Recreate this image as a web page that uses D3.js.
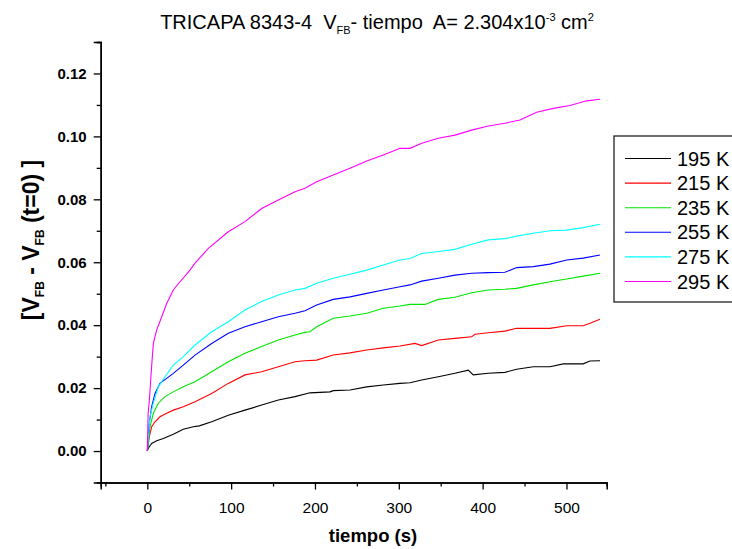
<!DOCTYPE html>
<html>
<head>
<meta charset="utf-8">
<script src="https://cdn.jsdelivr.net/npm/d3@7"></script>
<style>
  body { margin: 0; background: #fff; }
  svg { font-family: Arial, "Liberation Sans", sans-serif; }
  text { white-space: pre; }
</style>
</head>
<body>
<svg id="chart" width="732" height="549"></svg>
<script>
// tiempo (s) y [VFB - VFB(t=0)] (V)
const t195 = [0, 1.2, 5.2, 11.2, 19.1, 31, 42.9, 54.9, 62, 76.8, 96.6, 116.5, 136.4, 156.3, 176.2, 194, 217.9, 221.8, 241.8, 261.7, 281.5, 301.4, 313.3, 327.3, 347.2, 367, 382.9, 388.8, 406.7, 426.6, 440.6, 460.4, 480.3, 496.2, 520, 528, 540];
const v195 = [0, 0.0009, 0.0024, 0.0033, 0.0040, 0.0053, 0.0069, 0.0077, 0.0080, 0.0093, 0.0114, 0.0130, 0.0146, 0.0162, 0.0173, 0.0185, 0.0188, 0.0192, 0.0194, 0.0204, 0.0210, 0.0215, 0.0217, 0.0226, 0.0236, 0.0247, 0.0257, 0.0242, 0.0247, 0.0250, 0.0260, 0.0268, 0.0268, 0.0277, 0.0277, 0.0286, 0.0287];

const t215 = [0, 2.4, 5.2, 9.2, 15.1, 23.1, 31, 42.9, 56.9, 76.8, 96.6, 116.5, 136.4, 156.3, 176.2, 188.1, 202, 221.8, 241.8, 261.7, 281.5, 301.4, 319.3, 327.3, 347.2, 367, 386.9, 390.9, 406.7, 426.6, 440.6, 460.4, 480.3, 500.2, 520, 528, 540];
const v215 = [0, 0.0045, 0.0077, 0.0093, 0.0109, 0.0120, 0.0130, 0.0141, 0.0157, 0.0183, 0.0215, 0.0242, 0.0252, 0.0268, 0.0284, 0.0287, 0.0289, 0.0305, 0.0312, 0.0321, 0.0328, 0.0334, 0.0342, 0.0335, 0.0353, 0.0358, 0.0363, 0.0371, 0.0376, 0.0381, 0.0390, 0.0390, 0.0390, 0.0398, 0.0398, 0.0406, 0.0419];

const t235 = [0, 3.2, 7.2, 13.1, 21.1, 31, 42.9, 56.9, 76.8, 96.6, 116.5, 136.4, 156.3, 176.2, 188.1, 194, 202, 221.8, 241.8, 261.7, 281.5, 301.4, 313.3, 331.2, 347.2, 367, 386.9, 406.7, 426.6, 440.6, 460.4, 480.3, 500.2, 520, 540];
const v235 = [0, 0.0077, 0.0120, 0.0152, 0.0173, 0.0188, 0.0204, 0.0220, 0.0252, 0.0284, 0.0311, 0.0332, 0.0353, 0.0369, 0.0377, 0.0379, 0.0395, 0.0422, 0.0429, 0.0438, 0.0454, 0.0461, 0.0466, 0.0466, 0.0482, 0.0489, 0.0503, 0.0512, 0.0514, 0.0517, 0.0528, 0.0538, 0.0547, 0.0556, 0.0565];

const t255 = [0, 2.4, 5.2, 9.2, 15.1, 23.1, 31, 42.9, 56.9, 76.8, 96.6, 116.5, 136.4, 156.3, 176.2, 188.1, 202, 221.8, 241.8, 261.7, 281.5, 301.4, 313.3, 327.3, 347.2, 367, 386.9, 406.7, 426.6, 440.6, 460.4, 480.3, 500.2, 520, 540];
const v255 = [0, 0.0090, 0.0141, 0.0183, 0.0215, 0.0231, 0.0247, 0.0273, 0.0305, 0.0342, 0.0374, 0.0395, 0.0411, 0.0427, 0.0438, 0.0446, 0.0464, 0.0482, 0.0490, 0.0501, 0.0512, 0.0522, 0.0528, 0.0540, 0.0549, 0.0559, 0.0565, 0.0567, 0.0568, 0.0583, 0.0586, 0.0594, 0.0607, 0.0613, 0.0623];

const t275 = [0, 3.2, 7.2, 13.1, 21.1, 31, 42.9, 56.9, 76.8, 96.6, 116.5, 136.4, 156.3, 176.2, 188.1, 202, 221.8, 241.8, 261.7, 281.5, 301.4, 313.3, 327.3, 347.2, 367, 386.9, 406.7, 426.6, 440.6, 460.4, 480.3, 500.2, 520, 540];
const v275 = [0, 0.0109, 0.0152, 0.0204, 0.0236, 0.0273, 0.0300, 0.0337, 0.0379, 0.0411, 0.0448, 0.0475, 0.0496, 0.0512, 0.0517, 0.0533, 0.0549, 0.0562, 0.0575, 0.0591, 0.0607, 0.0612, 0.0628, 0.0634, 0.0641, 0.0657, 0.0671, 0.0675, 0.0683, 0.0692, 0.0700, 0.0702, 0.0710, 0.0721];

const t295 = [0, 1, 2.4, 5.2, 7.2, 11.2, 17.2, 23.1, 31, 39, 50.9, 56.9, 72.8, 96.6, 116.5, 136.4, 156.3, 176.2, 188.1, 202, 221.8, 241.8, 261.7, 281.5, 301.4, 313.3, 327.3, 347.2, 367, 386.9, 406.7, 426.6, 444.5, 464.5, 484.3, 504.2, 524, 540];
const v295 = [0, 0.0120, 0.0160, 0.0270, 0.0342, 0.0385, 0.0427, 0.0469, 0.0512, 0.0538, 0.0575, 0.0597, 0.0644, 0.0697, 0.0729, 0.0771, 0.0798, 0.0824, 0.0835, 0.0856, 0.0877, 0.0899, 0.0922, 0.0941, 0.0962, 0.0962, 0.0978, 0.0994, 0.1004, 0.1020, 0.1033, 0.1042, 0.1052, 0.1077, 0.1089, 0.1098, 0.1113, 0.1118];

const seriesNames = ["195 K", "215 K", "235 K", "255 K", "275 K", "295 K"];
const seriesColors = ["#000000", "#ff0000", "#00e600", "#0000ff", "#00ffff", "#ff00ff"];
const seriesT = [t195, t215, t235, t255, t275, t295];
const seriesV = [v195, v215, v235, v255, v275, v295];

const xMajor = [0, 100, 200, 300, 400, 500];
const xMinor = [-50, 50, 150, 250, 350, 450, 550];
const yMajor = [0, 0.02, 0.04, 0.06, 0.08, 0.10, 0.12];
const yMinor = [-0.01, 0.01, 0.03, 0.05, 0.07, 0.09, 0.11, 0.13];

const svg = d3.select("#chart");

const x = d3.scaleLinear().domain([-55.6, 548]).range([100.7, 606.7]);
const y = d3.scaleLinear().domain([-0.01, 0.13]).range([482.5, 42]);

// ejes
const xAxisMinor = d3.axisBottom(x).tickValues(xMinor.filter(d => d >= -55.6 && d <= 548)).tickSize(4).tickFormat("");
const xAxisMajor = d3.axisBottom(x).tickValues(xMajor).tickSize(7).tickPadding(12).tickFormat(d3.format("d"));
const yAxisMinor = d3.axisLeft(y).tickValues(yMinor.filter(d => d > -0.01 && d <= 0.13)).tickSize(4).tickFormat("");
const yAxisMajor = d3.axisLeft(y).tickValues(yMajor).tickSize(7).tickPadding(7).tickFormat(d3.format(".2f"));

function styleAxis(g) {
    g.select(".domain").attr("stroke", "#000").attr("stroke-width", 1.5);
    g.selectAll(".tick line").attr("stroke", "#000").attr("stroke-width", 1.3);
    g.selectAll(".tick text").attr("fill", "#000");
}

svg.append("g").attr("transform", "translate(0,482.5)").call(xAxisMinor).call(styleAxis);
svg.append("g").attr("transform", "translate(0,482.5)").call(xAxisMajor).call(styleAxis)
    .selectAll(".tick text").style("font-size", "15.5px").attr("font-family", "Arial, 'Liberation Sans', sans-serif");
svg.append("g").attr("transform", "translate(100.7,0)").call(yAxisMinor).call(styleAxis);
svg.append("g").attr("transform", "translate(100.7,0)").call(yAxisMajor).call(styleAxis)
    .selectAll(".tick text").style("font-size", "15px").style("font-weight", "bold").attr("font-family", "Arial, 'Liberation Sans', sans-serif");

// curvas
const line = d3.line().x(d => x(d[0])).y(d => y(d[1]));
seriesT.forEach((ts, i) => {
    const pts = ts.map((t, j) => [t, seriesV[i][j]]);
    svg.append("path")
        .datum(pts)
        .attr("fill", "none")
        .attr("stroke", seriesColors[i])
        .attr("stroke-width", 1.1)
        .attr("d", line);
});

// titulo
const title = svg.append("text")
    .attr("x", 377).attr("y", 29)
    .attr("text-anchor", "middle")
    .style("font-size", "20px");
title.append("tspan").text("TRICAPA 8343-4  V");
title.append("tspan").attr("dy", 5).style("font-size", "11px").text("FB");
title.append("tspan").attr("dy", -5).text("- tiempo  A= 2.304x10");
title.append("tspan").attr("dy", -8).style("font-size", "11px").text("-3");
title.append("tspan").attr("dy", 8).text(" cm");
title.append("tspan").attr("dy", -8).style("font-size", "11px").text("2");

// etiqueta eje y
const ylab = svg.append("text")
    .attr("transform", "translate(39,240) rotate(-90)")
    .attr("text-anchor", "middle")
    .style("font-size", "23px").style("font-weight", "bold");
ylab.append("tspan").text("[V");
ylab.append("tspan").attr("dy", 5).style("font-size", "12px").text("FB");
ylab.append("tspan").attr("dy", -5).text(" - V");
ylab.append("tspan").attr("dy", 5).style("font-size", "12px").text("FB");
ylab.append("tspan").attr("dy", -5).text(" (t=0) ]");

// etiqueta eje x
svg.append("text")
    .attr("x", 373).attr("y", 542)
    .attr("text-anchor", "middle")
    .style("font-size", "18.5px").style("font-weight", "bold")
    .text("tiempo (s)");

// leyenda
const legend = svg.append("g");
legend.append("rect")
    .attr("x", 614).attr("y", 136).attr("width", 130).attr("height", 166)
    .attr("fill", "#fff").attr("stroke", "#222").attr("stroke-width", 1.3);
seriesNames.forEach((name, i) => {
    const ly = 158.5 + i * 24.6;
    legend.append("line")
        .attr("x1", 625).attr("x2", 671).attr("y1", ly).attr("y2", ly)
        .attr("stroke", seriesColors[i]).attr("stroke-width", 1.1);
    legend.append("text")
        .attr("x", 677).attr("y", ly + 7)
        .style("font-size", "20px")
        .text(name);
});
</script>
</body>
</html>
